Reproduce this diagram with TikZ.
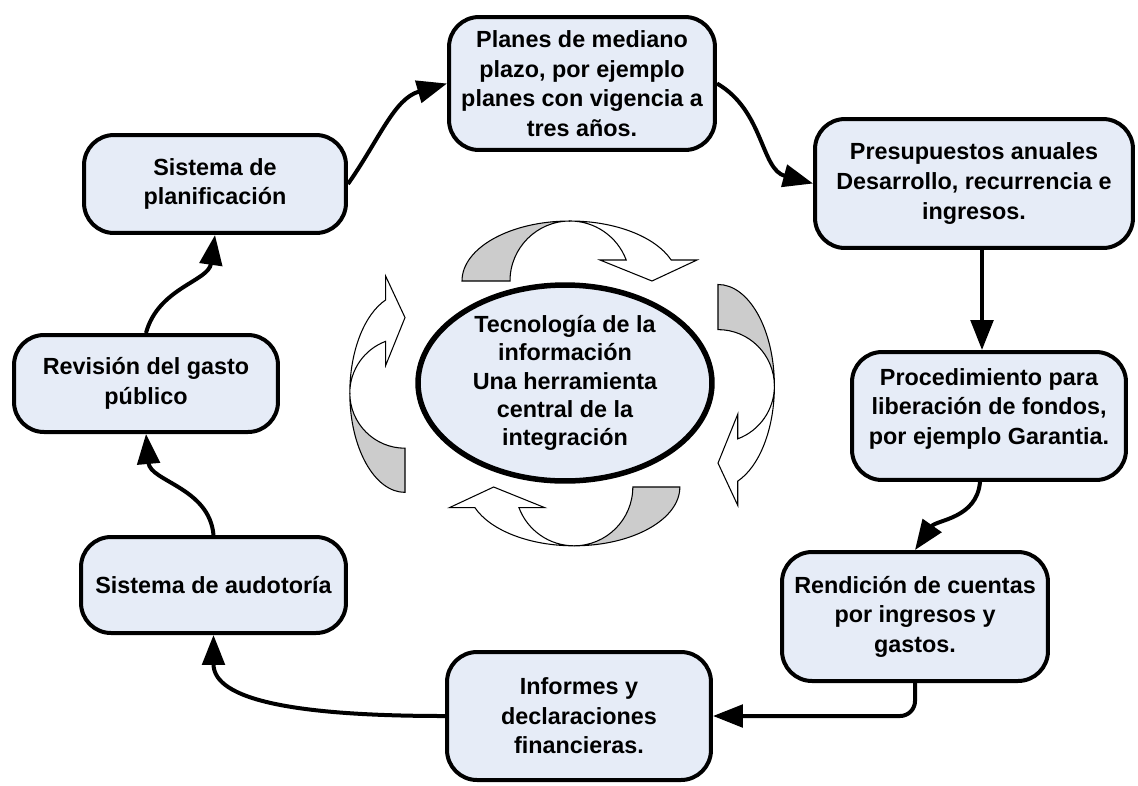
\documentclass[tikz,border=0pt]{standalone}
\usepackage{fontspec}
\setmainfont{Liberation Sans}
\usetikzlibrary{arrows.meta,shapes.geometric}
\definecolor{boxblue}{RGB}{230,236,247}
\definecolor{arrgray}{RGB}{204,204,204}
\newcommand\curvedblock{%
  \filldraw[blockarr, fill=arrgray] (-108,0)
    arc[start angle=180, end angle=90, x radius=108, y radius=60]
    arc[start angle=90, end angle=180, x radius=60, y radius=60] -- cycle;
  \filldraw[blockarr, fill=white] (0,60)
    arc[start angle=90, end angle=20.49, x radius=108, y radius=60]
    -- (127,21) -- (82,0) -- (30,21) -- (56.2,21)
    arc[start angle=20.49, end angle=90, x radius=60, y radius=60] -- cycle;}
\tikzset{
  box/.style={draw=black, line width=0.08cm, fill=boxblue, rounded corners=0.6cm,
    inner sep=0pt, align=center, font=\fontsize{13.3pt}{16.8pt}\selectfont\bfseries},
  hub/.style={ellipse, draw=black, line width=0.11cm, fill=boxblue, inner sep=0pt,
    align=center, font=\fontsize{13.3pt}{16pt}\selectfont\bfseries},
  conn/.style={line width=0.08cm, -{Triangle[length=0.6cm,width=0.45cm]}},
  blockarr/.style={draw=black, line width=0.6pt, line join=miter}
}
\begin{document}
\begin{tikzpicture}[x=0.02cm, y=0.02cm]
\useasboundingbox (0,0) rectangle (1138,-785);
% circular block arrows
\begin{scope}[shift={(570,-281)}] \curvedblock \end{scope}
\begin{scope}[shift={(718,-386)}, rotate=-90, scale=0.94] \curvedblock \end{scope}
\begin{scope}[shift={(574,-487)}, rotate=180, scale=0.98] \curvedblock \end{scope}
\begin{scope}[shift={(405,-393)}, rotate=90, scale=0.92] \curvedblock \end{scope}
% central ellipse
\node[hub, minimum width=5.88cm, minimum height=3.92cm] (tec) at (565,-383)
  {Tecnología de la\\información\\Una herramienta\\central de la\\integración};
% boxes
\node[box, minimum width=5.24cm, minimum height=1.96cm] (plan) at (215,-184) {Sistema de\\planificación};
\node[box, minimum width=5.32cm, minimum height=2.66cm] (planes) at (582,-83.5) {Planes de mediano\\plazo, por ejemplo\\planes con vigencia a\\tres años.};
\node[box, minimum width=6.36cm, minimum height=2.58cm] (presup) at (974,-183.5) {Presupuestos anuales\\Desarrollo, recurrencia e\\ingresos.};
\node[box, minimum width=5.48cm, minimum height=2.56cm] (proced) at (989,-416) {Procedimiento para\\liberación de fondos,\\por ejemplo Garantia.\\[-5.5pt]\mbox{}};
\node[box, minimum width=5.32cm, minimum height=2.58cm] (rendic) at (915,-616.5) {Rendición de cuentas\\por ingresos y\\gastos.};
\node[box, minimum width=5.28cm, minimum height=2.56cm] (informes) at (579,-716) {Informes y\\declaraciones\\financieras.};
\node[box, minimum width=5.3cm, minimum height=1.92cm] (audit) at (213.5,-585) {Sistema de audotoría};
\node[box, minimum width=5.28cm, minimum height=1.94cm] (revision) at (146,-383.5) {Revisión del gasto\\público};
% connectors
\coordinate (c1) at ([xshift=0.16cm]presup.south);
\draw[conn] (plan.east) to[out=55, in=196] (planes.west);
\draw[conn] (planes.east) to[out=-30, in=165] (presup.west);
\draw[conn] (c1) -- (c1 |- proced.north);
\draw[conn] ([xshift=-0.18cm]proced.south) to[out=-95, in=55] (rendic.north);
\draw[conn, rounded corners=0.3cm] (rendic.south) |- (informes.east);
\draw[conn] (informes.west) to[out=180, in=-90, out distance=3cm, in distance=1.3cm] (audit.south);
\draw[conn] (audit.north) to[out=95, in=-85] (revision.south);
\draw[conn] (revision.north) to[out=75, in=-98] (plan.south);
\end{tikzpicture}
\end{document}
